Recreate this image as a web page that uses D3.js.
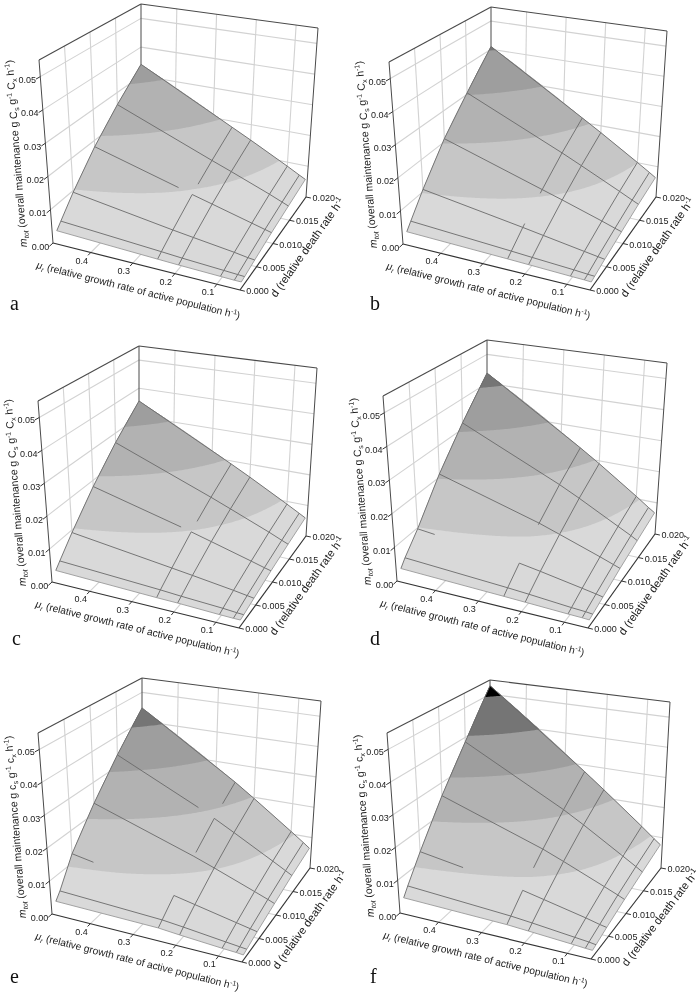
<!DOCTYPE html>
<html>
<head>
<meta charset="utf-8">
<script src="https://cdn.jsdelivr.net/npm/d3@7"></script>
<style>
  html, body { margin: 0; padding: 0; background: #fff; }
  svg { filter: blur(0.3px); }
  text { font-family: "Liberation Sans", Arial, sans-serif; fill: #1a1a1a; }
  .letter { font-family: "Liberation Serif", "Times New Roman", serif; font-size: 20px; fill: #111; }
</style>
</head>
<body>
<svg id="main"></svg>
<script>
// mesh of the surface, x = mu, y = d
const muMesh = [0.05, 0.0667, 0.1, 0.2, 0.25, 0.49]
const dMesh = [0.001, 0.002, 0.005, 0.01, 0.015, 0.02]

const muTicks = [0.4, 0.3, 0.2, 0.1]
const dTicks = [0, 0.005, 0.01, 0.015, 0.02]
const mTicks = [0, 0.01, 0.02, 0.03, 0.04, 0.05]

const bandLevels = [0.01, 0.02, 0.03, 0.04, 0.05]
const bandColors = ['#d9d9d9', '#c6c6c6', '#b2b2b2', '#9e9e9e', '#757575', '#000000']

// m tot, one row for each muMesh value, one column for each dMesh value
const mA = [
  [0.0008, 0.0010, 0.0018, 0.0031, 0.0043, 0.0056],
  [0.0008, 0.0011, 0.0020, 0.0036, 0.0051, 0.0066],
  [0.0009, 0.0013, 0.0026, 0.0046, 0.0067, 0.0087],
  [0.0012, 0.0019, 0.0041, 0.0077, 0.0113, 0.0149],
  [0.0014, 0.0023, 0.0049, 0.0093, 0.0136, 0.0180],
  [0.0025, 0.0042, 0.0095, 0.0180, 0.0260, 0.0340]
]
const mB = [
  [0.0008, 0.0011, 0.0020, 0.0034, 0.0049, 0.0063],
  [0.0009, 0.0012, 0.0023, 0.0040, 0.0058, 0.0076],
  [0.0010, 0.0015, 0.0029, 0.0053, 0.0077, 0.0101],
  [0.0014, 0.0022, 0.0048, 0.0091, 0.0134, 0.0177],
  [0.0016, 0.0026, 0.0058, 0.0110, 0.0163, 0.0215],
  [0.0025, 0.0045, 0.0107, 0.0210, 0.0305, 0.0410]
]
const mC = [
  [0.0008, 0.0010, 0.0018, 0.0032, 0.0045, 0.0058],
  [0.0008, 0.0011, 0.0021, 0.0037, 0.0053, 0.0069],
  [0.0009, 0.0014, 0.0027, 0.0048, 0.0070, 0.0091],
  [0.0013, 0.0020, 0.0043, 0.0081, 0.0119, 0.0157],
  [0.0014, 0.0024, 0.0051, 0.0098, 0.0144, 0.0190],
  [0.0023, 0.0040, 0.0092, 0.0180, 0.0268, 0.0355]
]
const mD = [
  [0.0008, 0.0011, 0.0020, 0.0036, 0.0051, 0.0067],
  [0.0009, 0.0013, 0.0024, 0.0043, 0.0062, 0.0080],
  [0.0010, 0.0015, 0.0031, 0.0057, 0.0082, 0.0108],
  [0.0014, 0.0024, 0.0052, 0.0098, 0.0145, 0.0191],
  [0.0016, 0.0028, 0.0062, 0.0119, 0.0176, 0.0232],
  [0.0025, 0.0045, 0.0097, 0.0210, 0.0320, 0.0435]
]
const mE = [
  [0.0005, 0.0008, 0.0018, 0.0033, 0.0049, 0.0064],
  [0.0007, 0.0010, 0.0022, 0.0041, 0.0060, 0.0079],
  [0.0009, 0.0014, 0.0030, 0.0056, 0.0082, 0.0108],
  [0.0017, 0.0027, 0.0055, 0.0102, 0.0149, 0.0196],
  [0.0022, 0.0033, 0.0068, 0.0125, 0.0183, 0.0240],
  [0.0027, 0.0047, 0.0128, 0.0233, 0.0338, 0.0446]
]
const mF = [
  [0.0010, 0.0013, 0.0024, 0.0041, 0.0058, 0.0076],
  [0.0011, 0.0016, 0.0028, 0.0050, 0.0071, 0.0092],
  [0.0014, 0.0020, 0.0038, 0.0067, 0.0096, 0.0126],
  [0.0022, 0.0033, 0.0065, 0.0119, 0.0173, 0.0227],
  [0.0026, 0.0039, 0.0079, 0.0145, 0.0211, 0.0278],
  [0.0035, 0.0060, 0.0133, 0.0258, 0.0385, 0.0530]
]

// stretches where the mesh lines are lost in the original, [mu, d from, d to]
const muGapsA = [[0.25, 0.01, 0.0115]]
const muGapsB = [[0.25, 0.0055, 0.0095]]
const muGapsC = [[0.25, 0.01, 0.0115]]
const muGapsD = [[0.25, 0.005, 0.0098]]
const muGapsE = [[0.25, 0.005, 0.0105], [0.25, 0.015, 0.017]]
const muGapsF = [[0.25, 0.005, 0.0077]]
// and [d, mu from, mu to]
const dGapsA = [[0.01, 0.25, 0.284]]
const dGapsB = []
const dGapsC = [[0.01, 0.25, 0.275]]
const dGapsD = [[0.005, 0.25, 0.45]]
const dGapsE = [[0.005, 0.25, 0.44], [0.015, 0.25, 0.29]]
const dGapsF = [[0.005, 0.25, 0.39]]

// box corners of each panel on the page: L left, N near, R right, B back, T = top of that edge
const panels = [
  { letter: 'a', grid: mA, muGaps: muGapsA, dGaps: dGapsA, c: 'C', lx: 10, ly: 310, L: [53, 243], N: [240, 290], R: [306, 197], B: [141, 162], TL: [39, 60], TB: [141, 4], TR: [318, 28] },
  { letter: 'b', grid: mB, muGaps: muGapsB, dGaps: dGapsB, c: 'C', lx: 370, ly: 310, L: [403, 244], N: [590, 290], R: [656, 197], B: [491, 162], TL: [389, 62], TB: [491, 7], TR: [667, 31] },
  { letter: 'c', grid: mC, muGaps: muGapsC, dGaps: dGapsC, c: 'C', lx: 12, ly: 645, L: [52, 582], N: [239, 628], R: [306, 536], B: [139, 501], TL: [38, 401], TB: [139, 346], TR: [317, 368] },
  { letter: 'd', grid: mD, muGaps: muGapsD, dGaps: dGapsD, c: 'C', lx: 370, ly: 645, L: [397, 581], N: [588, 628], R: [655, 534], B: [487, 498], TL: [383, 396], TB: [487, 340], TR: [667, 363] },
  { letter: 'e', grid: mE, muGaps: muGapsE, dGaps: dGapsE, c: 'c', lx: 10, ly: 983, L: [52, 914], N: [242, 962], R: [310, 868], B: [142, 836], TL: [38, 733], TB: [142, 678], TR: [321, 701] },
  { letter: 'f', grid: mF, muGaps: muGapsF, dGaps: dGapsF, c: 'c', lx: 370, ly: 983, L: [400, 913], N: [591, 959], R: [661, 868], B: [490, 836], TL: [387, 733], TB: [490, 680], TR: [670, 702] }
]

let width = 700
let height = 1000
let nearTop = [6, -200]

let svg = d3.select('#main')
svg.attr('width', width).attr('height', height)

let uScale = d3.scaleLinear().domain([0.49, 0.045]).range([0, 1])
let vScale = d3.scaleLinear().domain([0, 0.02]).range([0, 1])
let wScale = d3.scaleLinear().domain([0, 0.055]).range([0, 1])

let muIndex = d3.scaleLinear().domain(muMesh).range(d3.range(muMesh.length)).clamp(true)
let dIndex = d3.scaleLinear().domain(dMesh).range(d3.range(dMesh.length)).clamp(true)

const mix = (a, b, t) => [a[0] + (b[0] - a[0]) * t, a[1] + (b[1] - a[1]) * t]

const makeProject = (p) => {
  let TN = [p.N[0] + nearTop[0], p.N[1] + nearTop[1]]
  return (mu, d, m) => {
    let u = uScale(mu), v = vScale(d), w = wScale(m)
    let floor = mix(mix(p.L, p.N, u), mix(p.B, p.R, u), v)
    let top = mix(mix(p.TL, TN, u), mix(p.TB, p.TR, u), v)
    return mix(floor, top, w)
  }
}

const surfaceValue = (grid, mu, d) => {
  let i = muIndex(mu), j = dIndex(d)
  let i0 = Math.min(Math.floor(i), muMesh.length - 2)
  let j0 = Math.min(Math.floor(j), dMesh.length - 2)
  let s = i - i0, t = j - j0
  return (grid[i0][j0] * (1 - t) + grid[i0][j0 + 1] * t) * (1 - s)
    + (grid[i0 + 1][j0] * (1 - t) + grid[i0 + 1][j0 + 1] * t) * s
}

let lineGen = d3.line()

// cuts one mesh line at its gaps and returns the pieces that stay
const meshRuns = (nodes, gaps) => {
  let stops = Array.from(new Set(nodes.concat(gaps.flat()))).sort((a, b) => a - b)
  let runs = []
  let run = [stops[0]]
  for (let i = 1; i < stops.length; i++) {
    let mid = (stops[i - 1] + stops[i]) / 2
    if (gaps.some(g => mid > g[0] && mid < g[1])) {
      if (run.length > 1) runs.push(run)
      run = [stops[i]]
    } else {
      run.push(stops[i])
    }
  }
  if (run.length > 1) runs.push(run)
  return runs
}

const drawSurface = (g, p, project) => {
  let nx = 130, ny = 100
  let muFine = d3.scaleLinear().domain([0, nx - 1]).range([muMesh[0], muMesh[muMesh.length - 1]]).clamp(true)
  let dFine = d3.scaleLinear().domain([0, ny - 1]).range([dMesh[0], dMesh[dMesh.length - 1]]).clamp(true)

  let field = []
  for (let y = 0; y < ny; y++) {
    for (let x = 0; x < nx; x++) {
      field.push(surfaceValue(p.grid, muFine(x), dFine(y)))
    }
  }

  let toPage = d3.geoTransform({
    point: function (x, y) {
      let mu = muFine(x - 0.5), d = dFine(y - 0.5)
      let q = project(mu, d, surfaceValue(p.grid, mu, d))
      this.stream.point(q[0], q[1])
    }
  })
  let path = d3.geoPath(toPage)

  let levels = [-1].concat(bandLevels)
  let bands = d3.contours().size([nx, ny]).thresholds(levels)(field)

  g.selectAll('path.band')
    .data(bands)
    .enter()
    .append('path')
    .attr('class', 'band')
    .attr('d', path)
    .attr('fill', (item, i) => bandColors[i])

  // mesh lines, the first ones are the pale near edges of the surface
  muMesh.forEach((mu, i) => {
    let gaps = p.muGaps.filter(item => item[0] == mu).map(item => item.slice(1))
    meshRuns(dMesh, gaps).forEach(run => {
      g.append('path')
        .attr('d', lineGen(run.map(d => project(mu, d, surfaceValue(p.grid, mu, d)))))
        .attr('fill', 'none')
        .attr('stroke', i == 0 ? '#9a9a9a' : '#6a6a6a')
        .attr('stroke-width', 0.9)
    })
  })
  dMesh.forEach((d, j) => {
    let gaps = p.dGaps.filter(item => item[0] == d).map(item => item.slice(1))
    meshRuns(muMesh, gaps).forEach(run => {
      g.append('path')
        .attr('d', lineGen(run.map(mu => project(mu, d, surfaceValue(p.grid, mu, d)))))
        .attr('fill', 'none')
        .attr('stroke', j == 0 ? '#9a9a9a' : '#6a6a6a')
        .attr('stroke-width', 0.9)
    })
  })
}

const drawBox = (g, p, project) => {
  let top = wScale.domain()[1]
  let muEnds = uScale.domain()
  let dEnds = vScale.domain()

  const seg = (a, b, color, w) => {
    g.append('path').attr('d', lineGen([a, b])).attr('stroke', color).attr('stroke-width', w).attr('fill', 'none')
  }
  let light = '#d2d2d2'

  // floor and the two back walls
  muTicks.forEach(mu => {
    seg(project(mu, dEnds[0], 0), project(mu, dEnds[1], 0), light, 1.1)
    seg(project(mu, dEnds[1], 0), project(mu, dEnds[1], top), light, 1.1)
  })
  dTicks.slice(1, -1).forEach(d => {
    seg(project(muEnds[0], d, 0), project(muEnds[1], d, 0), light, 1.1)
    seg(project(muEnds[0], d, 0), project(muEnds[0], d, top), light, 1.1)
  })
  mTicks.slice(1).forEach(m => {
    seg(project(muEnds[0], dEnds[0], m), project(muEnds[0], dEnds[1], m), light, 1.1)
    seg(project(muEnds[0], dEnds[1], m), project(muEnds[1], dEnds[1], m), light, 1.1)
  })

  let dark = '#4a4a4a'
  seg(p.L, p.TL, dark, 1)
  seg(p.B, p.TB, dark, 1)
  seg(p.R, p.TR, dark, 1)
  seg(p.TL, p.TB, dark, 1.1)
  seg(p.TB, p.TR, dark, 1.1)
}

const drawAxes = (g, p, project) => {
  let dEnds = vScale.domain()
  let muEnds = uScale.domain()
  let dark = '#333'

  const seg = (a, b, w) => {
    g.append('path').attr('d', lineGen([a, b])).attr('stroke', dark).attr('stroke-width', w).attr('fill', 'none')
  }
  // stick out of the box along the line that arrives at the axis
  const outward = (from, to, len) => {
    let dx = to[0] - from[0], dy = to[1] - from[1], n = Math.hypot(dx, dy)
    return [to[0] + dx / n * len, to[1] + dy / n * len]
  }

  seg(p.L, p.N, 1.2)
  seg(p.N, p.R, 1.2)

  mTicks.forEach(m => {
    let a = project(muEnds[0], dEnds[0], m)
    let e = outward(project(muEnds[0], dEnds[1], m), a, 5)
    seg(a, e, 1)
    g.append('text').attr('x', e[0]).attr('y', e[1] + 3.5).attr('text-anchor', 'end')
      .attr('font-size', 9).text(d3.format('.2f')(m))
  })
  dTicks.forEach(d => {
    let a = project(muEnds[1], d, 0)
    let e = outward(project(muEnds[0], d, 0), a, 5)
    seg(a, e, 1)
    g.append('text').attr('x', e[0] + 1.5).attr('y', e[1] + 3).attr('font-size', 9).text(d3.format('.3f')(d))
  })
  muTicks.forEach(mu => {
    let a = project(mu, dEnds[0], 0)
    let e = outward(project(mu, dEnds[1], 0), a, 4)
    seg(a, e, 1)
    g.append('text').attr('x', a[0] - 9).attr('y', a[1] + 11).attr('text-anchor', 'middle')
      .attr('font-size', 9).text(d3.format('.1f')(mu))
  })
}

const angleOf = (a, b) => Math.atan2(b[1] - a[1], b[0] - a[0]) * 180 / Math.PI

// small helper for titles, parts are [text, kind]
const addTitle = (g, x, y, angle, size, parts) => {
  let t = g.append('text')
    .attr('transform', `translate(${x},${y}) rotate(${angle})`)
    .attr('font-size', size)
  let shift = 0
  parts.forEach(part => {
    let s = t.append('tspan').text(part[0])
    let want = part[1] == 'sub' || part[1] == 'isub' ? size * 0.25 : part[1] == 'sup' ? -size * 0.35 : 0
    s.attr('dy', want - shift)
    shift = want
    if (part[1] == 'sub' || part[1] == 'isub' || part[1] == 'sup') s.attr('font-size', size * 0.68)
    if (part[1] == 'i' || part[1] == 'isub') s.attr('font-style', 'italic')
  })
}

const drawTitles = (g, p) => {
  addTitle(g, p.L[0] - 26, p.L[1] + 4, angleOf(p.L, p.TL), 10.5, [
    ['m', 'i'], ['tot', 'isub'], [' (overall maintenance g ', ''], [p.c, ''], ['s', 'sub'], [' g', ''], ['-1', 'sup'],
    [' ' + p.c, ''], ['x', 'sub'], [' h', ''], ['-1', 'sup'], [')', '']
  ])
  addTitle(g, p.L[0] - 17, p.L[1] + 25, angleOf(p.L, p.N), 10.2, [
    ['\u03bc', 'i'], ['r', 'isub'], [' (relative growth rate of active population h', ''], ['-1', 'sup'], [')', '']
  ])
  addTitle(g, p.N[0] + 36, p.N[1] + 8, angleOf(p.N, p.R), 11.2, [
    ['d (relative death rate h', ''], ['-1', 'sup']
  ])
  g.append('text').attr('class', 'letter').attr('x', p.lx).attr('y', p.ly).text(p.letter)
}

panels.forEach(p => {
  let g = svg.append('g').attr('class', 'panel')
  let project = makeProject(p)
  drawBox(g, p, project)
  drawSurface(g, p, project)
  drawAxes(g, p, project)
  drawTitles(g, p)
})
</script>
</body>
</html>
